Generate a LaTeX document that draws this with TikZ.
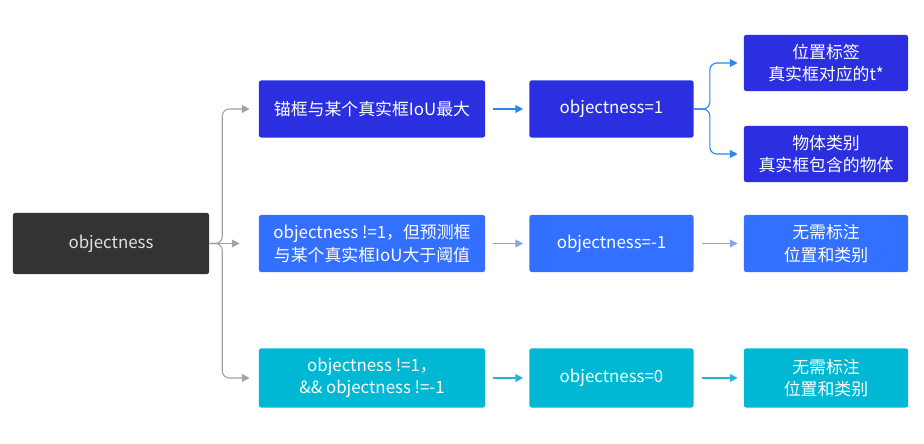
\documentclass[tikz,border=0pt]{standalone}
\usepackage{fontspec}
\setmainfont{Noto Sans CJK SC}
\usetikzlibrary{arrows.meta}
\definecolor{ink}{HTML}{333333}
\definecolor{deep}{HTML}{2B2FE0}
\definecolor{mid}{HTML}{3370FF}
\definecolor{aqua}{HTML}{00B8D4}
\definecolor{wire}{HTML}{A3A3A3}
\definecolor{deepwire}{HTML}{2A86F0}
\definecolor{midwire}{HTML}{7FA6F7}
\definecolor{aquawire}{HTML}{22B6D6}

\begin{document}
\begin{tikzpicture}[x=0.025cm,y=-0.025cm,font=\fontsize{12}{16}\selectfont,
  >={Triangle[length=5.5pt,width=5.5pt]},
  box/.style={rounded corners=1.5pt,text=white,align=center,inner sep=0pt,
    minimum height=1.425cm},
  wide/.style={box,minimum width=5.65cm},
  small/.style={box,minimum width=4.1cm},
  link/.style={->,line width=0.8pt,shorten <=0.2cm,shorten >=0.15cm}]
  \useasboundingbox (0,0) rectangle (924,444);

  \node[box,fill=ink,text=white!88!black,minimum width=4.9cm,
        minimum height=1.525cm] (root) at (111,243.5) {objectness};

  % first case
  \node[wide,fill=deep] (a1) at (372,109) {锚框与某个真实框IoU最大};
  \node[small,fill=deep] (b1) at (611.5,109) {objectness=1};
  \node[small,fill=deep,minimum height=1.4cm] (c1) at (826,63)
    {位置标签\\真实框对应的t*};
  \node[small,fill=deep,minimum height=1.4cm] (d1) at (826,154)
    {物体类别\\真实框包含的物体};

  % second case
  \node[wide,fill=mid] (a2) at (372,243.5)
    {objectness !=1，但预测框\\与某个真实框IoU大于阈值};
  \node[small,fill=mid] (b2) at (611.5,243.5) {objectness=-1};
  \node[small,fill=mid] (c2) at (826,243.5) {无需标注\\位置和类别};

  % third case
  \node[wide,fill=aqua,minimum height=1.475cm] (a3) at (372,378)
    {objectness !=1，\\\&\& objectness !=-1};
  \node[small,fill=aqua,minimum height=1.475cm] (b3) at (611.5,378)
    {objectness=0};
  \node[small,fill=aqua,minimum height=1.475cm] (c3) at (826,378)
    {无需标注\\位置和类别};

  % branches from the root
  \draw[wire,->,line width=0.8pt,rounded corners=5pt,shorten >=0.225cm]
    (root.east) -- ++(13,0) |- (a1.west);
  \draw[wire,->,line width=0.8pt,rounded corners=5pt,shorten >=0.225cm]
    (root.east) -- ++(13,0) |- (a3.west);
  \draw[wire,->,line width=0.8pt,shorten >=0.475cm] (root.east) -- (a2.west);

  \draw[deepwire,link] (a1) -- (b1);
  \draw[deepwire,->,line width=0.8pt,rounded corners=5pt,shorten >=0.15cm]
    (b1.east) -- ++(16,0) |- (c1.west);
  \draw[deepwire,->,line width=0.8pt,rounded corners=5pt,shorten >=0.15cm]
    (b1.east) -- ++(16,0) |- (d1.west);

  \draw[midwire,link] (a2) -- (b2);
  \draw[midwire,link] (b2) -- (c2);
  \draw[aquawire,link] (a3) -- (b3);
  \draw[aquawire,link] (b3) -- (c3);
\end{tikzpicture}
\end{document}
